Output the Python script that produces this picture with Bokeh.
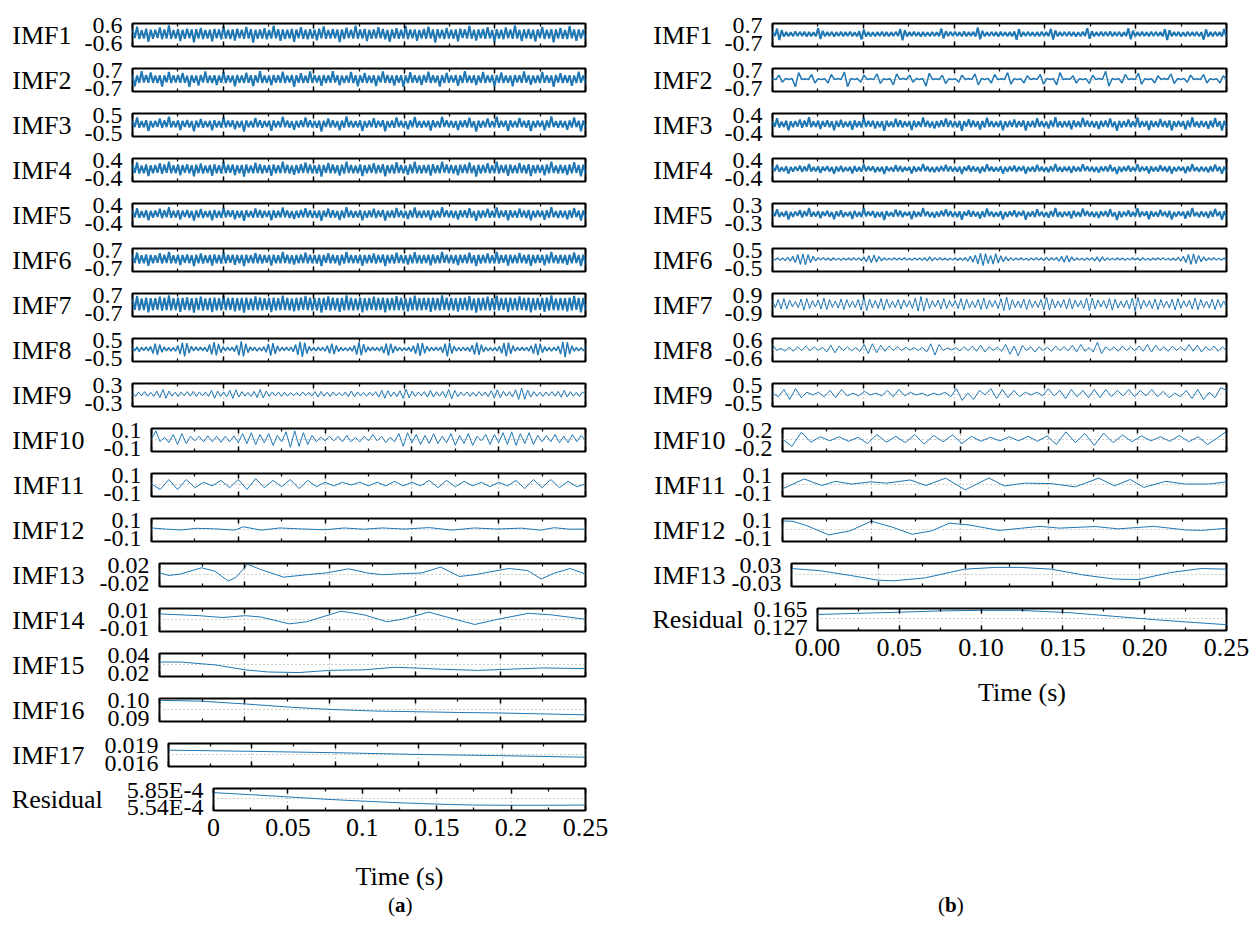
import numpy as np
from bokeh.plotting import figure
from bokeh.layouts import column, row
from bokeh.models import FixedTicker, LinearAxis, Div, Spacer
from bokeh.embed import file_html
from bokeh.resources import INLINE

FONT = "Liberation Serif"
BLUE = "#1f77b4"
FS = 26    # row names, x tick labels, x axis title
TFS = 24   # y tick labels

# ---------------- data, panel (a) ----------------
a_imf1 = [.31,-.27,.49,-.33,.26,-.3,.35,-.52,.29,-.31,.28,-.26,.44,-.34,.3,-.29,.57,-.32,.27,-.3,
.33,-.46,.28,-.31,.36,-.27,.3,-.55,.32,-.29,.41,-.33,.27,-.3,.29,-.48,.34,-.28,.31,-.35,
.53,-.3,.28,-.33,.3,-.43,.35,-.27,.29,-.32,.47,-.3,.33,-.56,.28,-.31,.3,-.29,.39,-.34,
.27,-.3,.55,-.28,.32,-.45,.3,-.33,.28,-.29,.34,-.51,.3,-.27,.46,-.31,.29,-.34,.32,-.3,
.28,-.42,.35,-.29,.5,-.31,.27,-.3,.33,-.28,.3,-.54,.31,-.33,.42,-.27,.29,-.3,.56,-.32,
.3,-.29,.34,-.47,.28,-.31,.31,-.3,.45,-.28,.33,-.35,.27,-.52,.3,-.29,.38,-.31,.29,-.3,
.52,-.33,.3,-.28,.31,-.44,.27,-.3,.34,-.31,.48,-.29,.3,-.57,.32,-.28,.29,-.33,.41,-.3,
.28,-.31,.3,-.49,.35,-.27,.31,-.3,.54,-.32,.29,-.43,.3,-.28,.33,-.31,.46,-.29,.27,-.53,
.32,-.3,.29,-.34,.44,-.28,.3,-.31,.57,-.3,.28,-.46,.31,-.29,.34,-.32,.29,-.5,.3,-.27,
.47,-.33,.28,-.3,.32,-.55,.3,-.29,.4,-.31,.27,-.33,.53,-.28,.3,-.45,.31,-.3,.29,-.32]
a_imf2 = [.29,-.56,.27,-.3,.6,-.27,.31,-.28,.5,-.29,.27,-.31,.3,-.58,.28,-.26,.55,-.3,.29,-.27,
.31,-.29,.47,-.28,.26,-.61,.3,-.29,.28,-.5,.32,-.27,.59,-.3,.28,-.31,.29,-.46,.27,-.28,
.53,-.3,.3,-.27,.28,-.57,.31,-.29,.27,-.3,.49,-.28,.3,-.55,.29,-.27,.6,-.31,.28,-.3,
.27,-.48,.32,-.28,.3,-.29,.56,-.3,.28,-.27,.31,-.6,.29,-.28,.45,-.31,.27,-.3,.58,-.29,
.3,-.27,.28,-.52,.31,-.3,.29,-.28,.61,-.27,.3,-.49,.28,-.31,.27,-.29,.54,-.3,.3,-.57,
.29,-.28,.47,-.3,.27,-.31,.3,-.55,.28,-.27,.59,-.29,.31,-.3,.28,-.5,.29,-.28,.3,-.6,
.27,-.31,.52,-.28,.3,-.29,.28,-.46,.31,-.27,.56,-.3,.29,-.28,.27,-.58,.3,-.31,.48,-.29,
.28,-.27,.31,-.53,.29,-.3,.6,-.28,.27,-.31,.3,-.47,.28,-.29,.55,-.3,.29,-.27,.31,-.59,
.3,-.28,.5,-.3,.27,-.29,.28,-.56,.31,-.27,.29,-.3,.58,-.28,.3,-.45,.27,-.31,.29,-.3,
.54,-.28,.3,-.29,.28,-.6,.31,-.27,.46,-.3,.29,-.28,.3,-.52,.27,-.31,.57,-.29,.28,-.3]
a_imf3 = [.19,-.17,.36,-.2,.16,-.18,.21,-.39,.17,-.19,.18,-.16,.3,-.21,.2,-.17,.41,-.19,.17,-.18,
.2,-.33,.18,-.16,.22,-.19,.17,-.4,.19,-.18,.28,-.2,.16,-.17,.18,-.35,.21,-.19,.17,-.2,
.38,-.18,.19,-.16,.2,-.29,.17,-.19,.18,-.42,.2,-.17,.16,-.19,.34,-.18,.21,-.2,.17,-.16,
.18,-.37,.2,-.19,.17,-.18,.4,-.17,.19,-.2,.16,-.31,.18,-.19,.21,-.17,.36,-.18,.2,-.19,
.17,-.2,.19,-.41,.18,-.16,.3,-.19,.2,-.18,.17,-.34,.19,-.2,.42,-.17,.18,-.19,.16,-.18,
.2,-.38,.17,-.19,.19,-.17,.32,-.2,.18,-.16,.21,-.4,.17,-.18,.19,-.2,.37,-.17,.18,-.19,
.16,-.29,.2,-.18,.39,-.19,.17,-.2,.18,-.17,.19,-.36,.21,-.18,.17,-.19,.41,-.16,.2,-.18,
.18,-.2,.17,-.33,.19,-.17,.2,-.19,.35,-.18,.16,-.42,.19,-.2,.18,-.17,.3,-.19,.17,-.18,
.4,-.2,.18,-.16,.19,-.37,.2,-.18,.17,-.19,.33,-.17,.18,-.2,.21,-.39,.17,-.18,.19,-.16,
.18,-.34,.2,-.19,.42,-.17,.16,-.2,.19,-.18,.17,-.31,.2,-.19,.36,-.17,.18,-.4,.19,-.2]
a_imf4 = [.19,-.17,.29,-.2,.16,-.18,.2,-.31,.17,-.19,.18,-.16,.26,-.21,.2,-.17,.33,-.19,.17,-.18,
.2,-.27,.18,-.16,.21,-.19,.17,-.32,.19,-.18,.25,-.2,.16,-.17,.18,-.3,.21,-.19,.17,-.2,
.31,-.18,.19,-.16,.2,-.26,.17,-.19,.18,-.33,.2,-.17,.16,-.19,.28,-.18,.21,-.2,.17,-.16,
.18,-.3,.2,-.19,.17,-.18,.32,-.17,.19,-.2,.16,-.25,.18,-.19,.21,-.17,.29,-.18,.2,-.19,
.17,-.2,.19,-.33,.18,-.16,.27,-.19,.2,-.18,.17,-.29,.19,-.2,.33,-.17,.18,-.19,.16,-.18,
.2,-.31,.17,-.19,.19,-.17,.26,-.2,.18,-.16,.21,-.32,.17,-.18,.19,-.2,.3,-.17,.18,-.19,
.16,-.25,.2,-.18,.32,-.19,.17,-.2,.18,-.17,.19,-.29,.21,-.18,.17,-.19,.33,-.16,.2,-.18,
.18,-.2,.17,-.27,.19,-.17,.2,-.19,.29,-.18,.16,-.33,.19,-.2,.18,-.17,.26,-.19,.17,-.18,
.32,-.2,.18,-.16,.19,-.3,.2,-.18,.17,-.19,.27,-.17,.18,-.2,.21,-.31,.17,-.18,.19,-.16,
.18,-.28,.2,-.19,.33,-.17,.16,-.2,.19,-.18,.17,-.26,.2,-.19,.3,-.17,.18,-.32,.19,-.2]
a_imf5 = [.16,-.14,.26,-.17,.13,-.15,.17,-.28,.14,-.16,.15,-.13,.23,-.18,.17,-.14,.3,-.16,.14,-.15,
.17,-.24,.15,-.13,.18,-.16,.14,-.29,.16,-.15,.22,-.17,.13,-.14,.15,-.27,.18,-.16,.14,-.17,
.28,-.15,.16,-.13,.17,-.23,.14,-.16,.15,-.3,.17,-.14,.13,-.16,.25,-.15,.18,-.17,.14,-.13,
.15,-.27,.17,-.16,.14,-.15,.29,-.14,.16,-.17,.13,-.22,.15,-.16,.18,-.14,.26,-.15,.17,-.16,
.14,-.17,.16,-.3,.15,-.13,.24,-.16,.17,-.15,.14,-.26,.16,-.17,.3,-.14,.15,-.16,.13,-.15,
.17,-.28,.14,-.16,.16,-.14,.23,-.17,.15,-.13,.18,-.29,.14,-.15,.16,-.17,.27,-.14,.15,-.16,
.13,-.22,.17,-.15,.29,-.16,.14,-.17,.15,-.14,.16,-.26,.18,-.15,.14,-.16,.3,-.13,.17,-.15,
.15,-.17,.14,-.24,.16,-.14,.17,-.16,.26,-.15,.13,-.3,.16,-.17,.15,-.14,.23,-.16,.14,-.15,
.29,-.17,.15,-.13,.16,-.27,.17,-.15,.14,-.16,.24,-.14,.15,-.17,.18,-.28,.14,-.15,.16,-.13,
.15,-.25,.17,-.16,.3,-.14,.13,-.17,.16,-.15,.14,-.23,.17,-.16,.27,-.14,.15,-.29,.16,-.17]
a_imf6 = [.33,-.3,.5,-.34,.29,-.32,.35,-.53,.31,-.33,.3,-.29,.45,-.35,.34,-.31,.55,-.33,.3,-.32,
.34,-.47,.32,-.29,.36,-.33,.3,-.54,.33,-.32,.43,-.35,.29,-.31,.32,-.5,.35,-.33,.31,-.34,
.52,-.32,.33,-.29,.34,-.44,.31,-.33,.32,-.55,.34,-.3,.29,-.33,.48,-.32,.35,-.34,.31,-.29,
.32,-.51,.34,-.33,.3,-.32,.54,-.31,.33,-.34,.29,-.42,.32,-.33,.35,-.3,.5,-.32,.34,-.33,
.31,-.34,.33,-.55,.32,-.29,.46,-.33,.34,-.32,.3,-.49,.33,-.34,.55,-.31,.32,-.33,.29,-.32,
.34,-.52,.31,-.33,.33,-.3,.44,-.34,.32,-.29,.35,-.54,.31,-.32,.33,-.34,.5,-.31,.32,-.33,
.29,-.43,.34,-.32,.53,-.33,.31,-.34,.32,-.3,.33,-.48,.35,-.32,.3,-.33,.55,-.29,.34,-.32,
.32,-.34,.31,-.46,.33,-.3,.34,-.33,.5,-.32,.29,-.55,.33,-.34,.32,-.31,.44,-.33,.3,-.32,
.54,-.34,.32,-.29,.33,-.51,.34,-.32,.31,-.33,.47,-.3,.32,-.34,.35,-.53,.31,-.32,.33,-.29,
.32,-.49,.34,-.33,.55,-.31,.29,-.34,.33,-.32,.31,-.45,.34,-.33,.51,-.3,.32,-.54,.33,-.34]
a_imf7 = [.48,-.45,.62,-.49,.44,-.47,.5,-.65,.46,-.48,.45,-.44,.58,-.5,.49,-.46,.66,-.48,.45,-.47,
.49,-.6,.47,-.44,.51,-.48,.45,-.66,.48,-.47,.57,-.5,.44,-.46,.47,-.63,.5,-.48,.46,-.49,
.64,-.47,.48,-.44,.49,-.57,.46,-.48,.47,-.66,.49,-.45,.44,-.48,.6,-.47,.5,-.49,.46,-.44,
.47,-.63,.49,-.48,.45,-.47,.65,-.46,.48,-.49,.44,-.56,.47,-.48,.5,-.45,.62,-.47,.49,-.48,
.46,-.49,.48,-.66,.47,-.44,.59,-.48,.49,-.47,.45,-.61,.48,-.49,.66,-.46,.47,-.48,.44,-.47,
.49,-.64,.46,-.48,.48,-.45,.57,-.49,.47,-.44,.5,-.65,.46,-.47,.48,-.49,.62,-.46,.47,-.48,
.44,-.56,.49,-.47,.65,-.48,.46,-.49,.47,-.45,.48,-.6,.5,-.47,.45,-.48,.66,-.44,.49,-.47,
.47,-.49,.46,-.58,.48,-.45,.49,-.48,.62,-.47,.44,-.66,.48,-.49,.47,-.46,.57,-.48,.45,-.47,
.65,-.49,.47,-.44,.48,-.63,.49,-.47,.46,-.48,.59,-.45,.47,-.49,.5,-.64,.46,-.47,.48,-.44,
.47,-.61,.49,-.48,.66,-.46,.44,-.49,.48,-.47,.46,-.57,.49,-.48,.63,-.45,.47,-.65,.48,-.49]
a_imf8 = [0.1,-0.1,0.12,-0.14,0.1,-0.09,
0.12,-0.1,0.15,-0.25,0.3,-0.32,0.25,-0.18,0.12,-0.1,0.09,-0.11,0.1,
-0.12,0.2,-0.28,0.35,-0.4,0.33,-0.22,0.15,-0.1,0.12,-0.09,0.1,-0.08,
0.1,-0.15,0.25,-0.3,0.38,-0.35,0.28,-0.2,0.13,-0.1,0.11,-0.09,0.1,
-0.14,0.22,-0.35,0.42,-0.4,0.3,-0.2,0.12,-0.09,0.1,-0.11,0.08,-0.1,
0.13,-0.18,0.28,-0.36,0.33,-0.26,0.18,-0.12,0.1,-0.08,0.1,-0.09,0.11,
-0.15,0.25,-0.32,0.4,-0.44,0.36,-0.25,0.15,-0.1,0.09,-0.1,0.11,-0.09,
0.1,-0.12,0.18,-0.24,0.3,-0.28,0.2,-0.14,0.1,-0.09,0.08,-0.1,0.09,
-0.12,0.2,-0.3,0.38,-0.35,0.27,-0.18,0.12,-0.1,0.11,-0.08,0.09,-0.1,
0.14,-0.22,0.3,-0.36,0.3,-0.22,0.15,-0.1,0.09,-0.1,0.08,-0.09,0.1,
-0.13,0.18,-0.26,0.32,-0.38,0.34,-0.24,0.15,-0.11,0.1,-0.09,0.1,-0.08,
0.12,-0.2,0.3,-0.4,0.35,-0.25,0.16,-0.11,0.09,-0.1,0.11,-0.09,0.1,
-0.14,0.22,-0.3,0.36,-0.32,0.24,-0.16,0.11,-0.1,0.08,-0.1,0.09,-0.11,
0.15,-0.24,0.34,-0.4,0.36,-0.26,0.18,-0.12,0.1,-0.09,0.1,-0.08,0.09,
-0.12,0.18,-0.25,0.3,-0.34,0.3,-0.2,0.13,-0.1,0.09,-0.11,0.1,-0.09,
0.16,-0.28,0.4,-0.45,0.38,-0.28,0.18,-0.12,0.09,-0.1,0.08,-0.1,0.09]
a_imf9 = [0.06,-0.08,0.07,-0.06,0.08,-0.07,0.06,-0.08,0.1,-0.12,
0.15,-0.14,0.1,-0.07,0.06,-0.08,0.07,-0.06,0.08,-0.07,
0.09,-0.08,0.07,-0.06,0.07,-0.08,0.12,-0.14,0.1,-0.08,
0.07,-0.09,0.12,-0.15,0.14,-0.1,0.08,-0.07,0.06,-0.08,
0.09,-0.12,0.15,-0.13,0.1,-0.08,0.07,-0.06,0.07,-0.08,
0.06,-0.07,0.05,-0.06,0.05,-0.06,0.07,-0.05,0.06,-0.07,
0.08,-0.1,0.09,-0.07,0.06,-0.08,0.07,-0.06,0.05,-0.06,
0.07,-0.08,0.1,-0.09,0.07,-0.06,0.05,-0.07,0.06,-0.05,
0.08,-0.1,0.12,-0.14,0.11,-0.08,0.07,-0.09,0.11,-0.14,
0.16,-0.13,0.1,-0.08,0.07,-0.06,0.08,-0.1,0.12,-0.1,
0.08,-0.07,0.09,-0.12,0.15,-0.16,0.12,-0.09,0.07,-0.06,
0.07,-0.08,0.06,-0.07,0.08,-0.06,0.07,-0.09,0.11,-0.13,
0.14,-0.12,0.09,-0.07,0.08,-0.1,0.14,-0.18,0.2,-0.17,
0.13,-0.1,0.08,-0.07,0.06,-0.08,0.07,-0.06,0.08,-0.07,
0.09,-0.11,0.12,-0.1,0.08,-0.07,0.06,-0.08,0.07,-0.02]
a_imf10 = [0.0,
0.09,-0.03,0.02,-0.04,0.05,-0.06,0.06,-0.05,0.03,-0.02,
0.03,-0.03,0.035,-0.03,0.03,-0.035,0.03,-0.03,0.035,-0.04,
0.06,-0.05,0.07,-0.06,0.05,-0.04,0.06,-0.07,0.04,-0.03,
0.08,-0.09,0.09,-0.08,0.07,-0.06,0.04,-0.03,0.02,-0.02,
0.03,-0.02,0.03,-0.03,0.04,-0.03,0.02,-0.03,0.03,-0.02,
0.05,-0.02,0.03,-0.04,0.02,-0.03,0.06,-0.08,0.07,-0.04,
0.05,-0.06,0.04,-0.05,0.06,-0.05,0.03,-0.04,0.06,-0.07,
0.04,-0.05,0.06,-0.07,0.03,-0.02,0.05,-0.06,0.05,-0.04,
0.07,-0.06,0.08,-0.07,0.06,-0.05,0.07,-0.06,0.04,-0.03,
0.04,-0.03,0.05,-0.04,0.03,-0.04,0.05,-0.03,0.04,-0.02]
a_imf11 = [0.0,
-0.06,0.05,-0.06,0.05,-0.04, 0.02,-0.02,0.04,-0.04,0.05,
-0.06,0.06,-0.04,0.04,-0.03, 0.05,-0.05,0.04,-0.03,0.02,
-0.02,0.02,-0.01,0.02,-0.02, 0.02,-0.02,0.03,-0.02,0.02,
-0.02,0.04,-0.04,0.04,-0.03, 0.03,-0.02,0.02,-0.03,0.02,
-0.02,0.04,-0.05,0.05,-0.04, 0.05,-0.04,0.03,-0.03,0.0]
a_imf12_t = [0, 0.008, 0.017, 0.026, 0.037, 0.048, 0.053, 0.063, 0.074, 0.085, 0.1, 0.111,
             0.122, 0.133, 0.146, 0.16, 0.173, 0.186, 0.199, 0.213, 0.224, 0.232, 0.241, 0.25]
a_imf12 = [0.012, 0.0, -0.01, 0.008, 0.002, -0.012, 0.025, -0.012, 0.012, 0.002, -0.008, 0.012,
           -0.002, 0.012, 0.0, 0.016, -0.012, 0.012, 0.0, 0.01, -0.012, 0.015, -0.002, 0.0]
a_imf13_t = [0, 0.0056, 0.0123, 0.0247, 0.0325, 0.0404, 0.0448, 0.0516, 0.0594, 0.0729, 0.0863, 0.0975,
             0.111, 0.122, 0.131, 0.142, 0.154, 0.165, 0.176, 0.185, 0.205, 0.216, 0.224, 0.232, 0.241, 0.25]
a_imf13 = [0.0023, -0.0031, 0.0, 0.0139, 0.0062, -0.0154, -0.0077, 0.0216, 0.01, -0.0069, -0.0015, 0.0023,
           0.0116, 0.0023, -0.0015, 0.0008, 0.0023, 0.0154, -0.0054, -0.0015, 0.0123, 0.0077, -0.0108, 0.0023, 0.0123, 0.0]
a_imf14_t = [0, 0.0235, 0.037, 0.0504, 0.0594, 0.0762, 0.0863, 0.1065, 0.12, 0.1334, 0.1424, 0.1581,
             0.167, 0.185, 0.1984, 0.2164, 0.2298, 0.25]
a_imf14 = [0.0057, 0.0037, 0.0017, 0.0037, 0.0023, -0.0053, -0.003, 0.0087, 0.0047, -0.003, -0.0003, 0.0077,
           0.003, -0.006, -0.0003, 0.0063, 0.0047, -0.0003]
a_imf15_t = [0, 0.0123, 0.0325, 0.0504, 0.0639, 0.0818, 0.0998, 0.12, 0.1379, 0.1491, 0.1648, 0.1872, 0.2052, 0.2253, 0.25]
a_imf15 = [0.0322, 0.0322, 0.0291, 0.0236, 0.0212, 0.0206, 0.023, 0.0236, 0.0264, 0.0257, 0.0243, 0.023, 0.0243, 0.0257, 0.0249]
a_imf16_t = [0, 0.0235, 0.0504, 0.0773, 0.0998, 0.1267, 0.1513, 0.176, 0.2009, 0.2258, 0.25]
a_imf16 = [0.0998, 0.0994, 0.0978, 0.096, 0.0948, 0.0939, 0.0935, 0.0931, 0.0928, 0.0923, 0.0918]
a_imf17_t = [0, 0.05, 0.1, 0.15, 0.2, 0.25]
a_imf17 = [0.01815, 0.01795, 0.01772, 0.01743, 0.01723, 0.01697]
a_res_t = [0, 0.025, 0.05, 0.075, 0.1, 0.125, 0.15, 0.175, 0.2, 0.225, 0.25]
a_res = [5.802e-4, 5.765e-4, 5.725e-4, 5.684e-4, 5.65e-4, 5.62e-4, 5.596e-4, 5.579e-4, 5.576e-4, 5.576e-4, 5.579e-4]

# ---------------- data, panel (b) ----------------
b_imf1 = [.17,-.15,.42,-.46,.3,-.2,.16,-.18,.15,-.17,.2,-.16,.17,-.15,.18,-.19,.16,-.17,.15,-.18,
.45,-.38,.25,-.18,.16,-.15,.17,-.19,.15,-.16,.18,-.17,.16,-.15,.19,-.17,.15,-.18,.22,-.42,
.35,-.2,.16,-.17,.15,-.18,.16,-.15,.19,-.17,.16,-.18,.15,-.16,.17,-.15,.38,-.48,.3,-.19,
.16,-.15,.18,-.16,.15,-.2,.16,-.17,.15,-.18,.17,-.16,.15,-.17,.42,-.35,.22,-.16,.17,-.15,
.18,-.16,.15,-.18,.2,-.17,.16,-.15,.17,-.19,.5,-.4,.25,-.18,.15,-.16,.17,-.15,.16,-.19,
.18,-.16,.15,-.17,.16,-.18,.2,-.45,.38,-.2,.16,-.15,.17,-.16,.15,-.18,.16,-.17,.19,-.15,
.16,-.17,.4,-.42,.28,-.18,.16,-.15,.17,-.16,.18,-.15,.16,-.19,.15,-.17,.18,-.16,.46,-.36,
.22,-.17,.15,-.16,.18,-.15,.17,-.16,.2,-.18,.16,-.15,.17,-.19,.15,-.16,.44,-.4,.26,-.17,
.16,-.15,.18,-.16,.15,-.17,.19,-.16,.17,-.15,.16,-.18,.38,-.46,.3,-.18,.16,-.15,.17,-.2,
.15,-.17,.18,-.16,.16,-.15,.17,-.18,.15,-.43,.36,-.2,.16,-.17,.18,-.15,.16,-.19,.4,-.3]
b_imf2 = [0.03,-0.04,0.3,-0.25,0.04, -0.03,0.04,-0.6,0.5,-0.04,
0.03,-0.04,0.35,-0.3,0.03, -0.04,0.03,-0.3,0.35,-0.03,
0.04,-0.03,0.55,-0.6,0.04, -0.03,0.04,-0.25,0.3,-0.04,
0.03,-0.04,0.4,-0.35,0.03, -0.04,0.03,-0.45,0.4,-0.03,
0.04,-0.03,0.3,-0.25,0.04, -0.03,0.04,-0.55,0.45,-0.04,
0.03,-0.04,0.3,-0.35,0.03, -0.04,0.03,-0.25,0.3,-0.03,
0.04,-0.03,0.4,-0.45,0.04, -0.03,0.04,-0.3,0.35,-0.04,
0.03,-0.04,0.5,-0.4,0.03, -0.04,0.03,-0.3,0.25,-0.03,
0.04,-0.03,0.35,-0.4,0.04, -0.03,0.04,-0.45,0.5,-0.04,
0.03,-0.04,0.25,-0.3,0.03, -0.04,0.03,-0.35,0.3,-0.03,
0.04,-0.03,0.6,-0.55,0.04, -0.03,0.04,-0.3,0.35,-0.04,
0.03,-0.04,0.45,-0.4,0.03, -0.04,0.03,-0.3,0.25,-0.03,
0.04,-0.03,0.4,-0.35,0.04, -0.03,0.04,-0.25,0.3,-0.04,
0.03,-0.04,0.35,-0.3,0.03, -0.04,0.03,-0.3,0.25,-0.03]
b_imf3 = [.14,-.12,.26,-.15,.11,-.13,.15,-.28,.12,-.14,.13,-.11,.2,-.16,.15,-.12,.3,-.14,.12,-.13,
.15,-.22,.13,-.11,.16,-.14,.12,-.27,.14,-.13,.19,-.15,.11,-.12,.13,-.25,.16,-.14,.12,-.15,
.28,-.13,.14,-.11,.15,-.2,.12,-.14,.13,-.3,.15,-.12,.11,-.14,.23,-.13,.16,-.15,.12,-.11,
.13,-.26,.15,-.14,.12,-.13,.29,-.12,.14,-.15,.11,-.19,.13,-.14,.16,-.12,.25,-.13,.15,-.14,
.12,-.15,.14,-.3,.13,-.11,.21,-.14,.15,-.13,.12,-.24,.14,-.15,.28,-.12,.13,-.14,.11,-.13,
.15,-.27,.12,-.14,.14,-.12,.2,-.15,.13,-.11,.16,-.29,.12,-.13,.14,-.15,.26,-.12,.13,-.14,
.11,-.19,.15,-.13,.3,-.14,.12,-.15,.13,-.12,.14,-.23,.16,-.13,.12,-.14,.28,-.11,.15,-.13,
.13,-.15,.12,-.22,.14,-.12,.15,-.14,.25,-.13,.11,-.3,.14,-.15,.13,-.12,.2,-.14,.12,-.13,
.29,-.15,.13,-.11,.14,-.26,.15,-.13,.12,-.14,.22,-.12,.13,-.15,.16,-.28,.12,-.13,.14,-.11,
.13,-.24,.15,-.14,.3,-.12,.11,-.15,.14,-.13,.12,-.21,.15,-.14,.27,-.12,.13,-.29,.14,-.15]
b_imf4 = [.11,-.09,.19,-.12,.08,-.1,.12,-.21,.09,-.11,.1,-.08,.15,-.13,.12,-.09,.22,-.11,.09,-.1,
.12,-.17,.1,-.08,.13,-.11,.09,-.2,.11,-.1,.14,-.12,.08,-.09,.1,-.19,.13,-.11,.09,-.12,
.21,-.1,.11,-.08,.12,-.15,.09,-.11,.1,-.22,.12,-.09,.08,-.11,.17,-.1,.13,-.12,.09,-.08,
.1,-.2,.12,-.11,.09,-.1,.22,-.09,.11,-.12,.08,-.14,.1,-.11,.13,-.09,.19,-.1,.12,-.11,
.09,-.12,.11,-.22,.1,-.08,.16,-.11,.12,-.1,.09,-.18,.11,-.12,.21,-.09,.1,-.11,.08,-.1,
.12,-.2,.09,-.11,.11,-.09,.15,-.12,.1,-.08,.13,-.21,.09,-.1,.11,-.12,.19,-.09,.1,-.11,
.08,-.14,.12,-.1,.22,-.11,.09,-.12,.1,-.09,.11,-.17,.13,-.1,.09,-.11,.21,-.08,.12,-.1,
.1,-.12,.09,-.16,.11,-.09,.12,-.11,.19,-.1,.08,-.22,.11,-.12,.1,-.09,.15,-.11,.09,-.1,
.21,-.12,.1,-.08,.11,-.19,.12,-.1,.09,-.11,.16,-.09,.1,-.12,.13,-.2,.09,-.1,.11,-.08,
.1,-.18,.12,-.11,.22,-.09,.08,-.12,.11,-.1,.09,-.15,.12,-.11,.2,-.09,.1,-.21,.11,-.12]
b_imf5 = [.09,-.07,.16,-.1,.06,-.08,.1,-.18,.07,-.09,.08,-.06,.13,-.11,.1,-.07,.2,-.09,.07,-.08,
.1,-.14,.08,-.06,.11,-.09,.07,-.17,.09,-.08,.12,-.1,.06,-.07,.08,-.16,.11,-.09,.07,-.1,
.19,-.08,.09,-.06,.1,-.12,.07,-.09,.08,-.2,.1,-.07,.06,-.09,.15,-.08,.11,-.1,.07,-.06,
.08,-.17,.1,-.09,.07,-.08,.2,-.07,.09,-.1,.06,-.12,.08,-.09,.11,-.07,.16,-.08,.1,-.09,
.07,-.1,.09,-.19,.08,-.06,.13,-.09,.1,-.08,.07,-.15,.09,-.1,.18,-.07,.08,-.09,.06,-.08,
.1,-.18,.07,-.09,.09,-.07,.12,-.1,.08,-.06,.11,-.19,.07,-.08,.09,-.1,.16,-.07,.08,-.09,
.06,-.12,.1,-.08,.2,-.09,.07,-.1,.08,-.07,.09,-.15,.11,-.08,.07,-.09,.18,-.06,.1,-.08,
.08,-.1,.07,-.13,.09,-.07,.1,-.09,.16,-.08,.06,-.2,.09,-.1,.08,-.07,.12,-.09,.07,-.08,
.19,-.1,.08,-.06,.09,-.17,.1,-.08,.07,-.09,.14,-.07,.08,-.1,.11,-.18,.07,-.08,.09,-.06,
.08,-.15,.1,-.09,.2,-.07,.06,-.1,.09,-.08,.07,-.13,.1,-.09,.17,-.07,.08,-.19,.09,-.1]
b_imf6 = [0.05,-0.06,0.08,-0.07,0.06,-0.09,0.1,-0.12,0.15,-0.2,
0.25,-0.3,0.28,-0.32,0.25,-0.2,0.15,-0.1,0.08,-0.06,
0.07,-0.05,0.06,-0.08,0.07,-0.06,0.05,-0.07,0.06,-0.05,
0.06,-0.07,0.08,-0.06,0.07,-0.09,0.12,-0.15,0.18,-0.2,
0.22,-0.18,0.14,-0.1,0.08,-0.06,0.05,-0.06,0.07,-0.05,
0.06,-0.05,0.07,-0.06,0.05,-0.07,0.06,-0.05,0.06,-0.07,
0.08,-0.1,0.12,-0.1,0.08,-0.06,0.07,-0.05,0.06,-0.07,
0.05,-0.06,0.07,-0.08,0.06,-0.07,0.09,-0.12,0.15,-0.18,
0.22,-0.28,0.32,-0.36,0.3,-0.25,0.2,-0.28,0.3,-0.22,
0.18,-0.15,0.12,-0.1,0.08,-0.07,0.06,-0.05,0.07,-0.06,
0.05,-0.07,0.06,-0.05,0.08,-0.06,0.07,-0.09,0.1,-0.08,
0.07,-0.06,0.09,-0.12,0.15,-0.18,0.2,-0.16,0.12,-0.09,
0.07,-0.06,0.05,-0.07,0.06,-0.05,0.08,-0.1,0.13,-0.15,
0.12,-0.09,0.07,-0.06,0.05,-0.06,0.07,-0.05,0.06,-0.07,
0.05,-0.06,0.07,-0.05,0.06,-0.08,0.07,-0.06,0.05,-0.07,
0.06,-0.05,0.07,-0.06,0.08,-0.06,0.05,-0.07,0.06,-0.08,
0.1,-0.12,0.15,-0.2,0.25,-0.3,0.28,-0.25,0.2,-0.15,
0.12,-0.09,0.07,-0.06,0.08,-0.06,0.05,-0.07,0.06,-0.04]
b_imf7 = [0.3,-0.35,0.45,-0.5,0.55,-0.5,0.4,-0.3,0.25,-0.35,
0.5,-0.6,0.55,-0.45,0.35,-0.3,0.4,-0.5,0.6,-0.55,
0.45,-0.35,0.3,-0.4,0.5,-0.55,0.45,-0.35,0.3,-0.35,
0.45,-0.6,0.7,-0.65,0.5,-0.4,0.35,-0.45,0.55,-0.6,
0.5,-0.4,0.3,-0.35,0.45,-0.5,0.4,-0.3,0.35,-0.45,
0.6,-0.7,0.75,-0.7,0.6,-0.45,0.35,-0.3,0.4,-0.5,
0.55,-0.45,0.35,-0.3,0.35,-0.45,0.55,-0.6,0.5,-0.4,
0.3,-0.35,0.45,-0.55,0.6,-0.5,0.4,-0.3,0.35,-0.45,
0.55,-0.65,0.7,-0.6,0.45,-0.35,0.3,-0.4,0.5,-0.55,
0.45,-0.35,0.3,-0.35,0.45,-0.55,0.65,-0.6,0.5,-0.4,
0.3,-0.35,0.45,-0.5,0.55,-0.5,0.4,-0.3,0.35,-0.45,
0.6,-0.65,0.6,-0.5,0.4,-0.3,0.35,-0.45,0.55,-0.6,
0.5,-0.4,0.3,-0.35,0.4,-0.5,0.6,-0.7,0.65,-0.5,
0.4,-0.3,0.35,-0.45,0.5,-0.55,0.45,-0.35,0.3,-0.4,
0.5,-0.6,0.55,-0.45,0.35,-0.3,0.4,-0.5,0.6,-0.55,
0.45,-0.35,0.3,-0.4,0.5,-0.55,0.45,-0.35,0.3,-0.2]
b_imf8 = [0.3,-0.1,0.05,-0.15,0.12,-0.15,0.15,-0.1,0.2,-0.12,0.15,
-0.1,0.12,-0.2,0.25,-0.25,0.2,-0.1,0.15,-0.12,0.1,-0.15,
0.3,-0.3,0.35,-0.25,0.25,-0.15,0.2,-0.1,0.15,-0.1,0.12,
-0.08,0.1,-0.1,0.12,-0.2,0.35,-0.4,0.3,-0.1,0.08,-0.06,
0.1,-0.12,0.15,-0.1,0.2,-0.15,0.25,-0.2,0.15,-0.1,0.12,
-0.15,0.3,-0.35,0.2,-0.45,0.25,-0.1,0.15,-0.2,0.15,-0.1,
0.12,-0.15,0.2,-0.1,0.15,-0.12,0.25,-0.2,0.3,-0.15,0.1,
-0.2,0.45,-0.3,0.15,-0.1,0.15,-0.15,0.2,-0.1,0.15,-0.12,
0.2,-0.15,0.3,-0.2,0.25,-0.1,0.15,-0.15,0.2,-0.1,0.15,
-0.12,0.3,-0.15,0.25,-0.2,0.15,-0.1,0.2,-0.15,0.15,-0.1]
b_imf9 = [0.05,-0.15,0.25,-0.3,0.3,-0.2,0.1,-0.05,
0.1,-0.15,0.2,-0.2,0.25,-0.1,0.05,-0.1,
0.15,-0.05,0.05,-0.1,0.2,-0.15,0.25,-0.1,
0.1,-0.05,0.05,-0.1,0.05,-0.05,0.1,-0.15,
0.3,-0.35,0.05,-0.3,0.2,-0.05,0.3,-0.25,
0.25,-0.2,0.2,-0.15,0.1,-0.05,0.1,-0.1,
0.3,-0.1,0.2,-0.25,0.25,-0.15,0.2,-0.2,
0.25,-0.2,0.25,-0.15,0.2,-0.1,0.25,-0.15,
0.2,-0.1,0.25,-0.15,0.15,-0.2,0.05,-0.15,
0.2,-0.25,0.25,-0.3,0.1,-0.2,0.35,0.2]
b_imf10 = [0.0,-0.16,0.15,-0.07,0.05,-0.04,0.05,-0.05,0.04,-0.1,
0.1,-0.07,0.06,-0.08,0.1,-0.11,0.08,-0.06,0.09,-0.1,
0.06,-0.05,0.04,-0.04,0.05,-0.04,0.06,-0.05,0.07,-0.12,
0.16,-0.08,0.12,-0.14,0.13,-0.08,0.09,-0.06,0.07,-0.04,
0.05,-0.05,0.08,-0.06,0.05,-0.12,0.02,0.17]
b_imf11_t = [0, 0.0122, 0.0221, 0.0299, 0.0387, 0.0498, 0.0586, 0.0719, 0.0808, 0.0918, 0.1029, 0.1162,
             0.125, 0.1361, 0.1515, 0.1648, 0.1781, 0.1869, 0.1958, 0.2035, 0.2157, 0.2268, 0.2401, 0.25]
b_imf11 = [-0.053, 0.056, -0.016, 0.03, 0.0, 0.024, 0.01, 0.045, -0.016, 0.065, -0.064, 0.067,
           -0.022, 0.01, 0.005, -0.031, 0.065, -0.02, 0.05, -0.037, 0.03, 0.0, 0.0, 0.024]
b_imf12_t = [0, 0.006, 0.014, 0.026, 0.038, 0.05, 0.062, 0.073, 0.084, 0.094, 0.105, 0.122, 0.134,
             0.145, 0.156, 0.176, 0.189, 0.209, 0.227, 0.236, 0.25]
b_imf12 = [0.09, 0.085, 0.035, -0.065, -0.02, 0.087, 0.02, -0.058, -0.02, 0.065, 0.045, -0.015, 0.008,
           0.03, 0.01, 0.028, 0.002, 0.03, -0.01, -0.015, 0.008]
b_imf13_t = [0, 0.0158, 0.0339, 0.0498, 0.0588, 0.0769, 0.0995, 0.1176, 0.1312, 0.1493, 0.1674, 0.1855,
             0.1991, 0.2172, 0.2353, 0.25]
b_imf13 = [0.0182, 0.0116, -0.0047, -0.0204, -0.0224, -0.0126, 0.0162, 0.0221, 0.0221, 0.0162, -0.0028,
           -0.0165, -0.0185, 0.0044, 0.0182, 0.0162]
b_res_t = [0, 0.0246, 0.0499, 0.0752, 0.1006, 0.1235, 0.1548, 0.1801, 0.2054, 0.2295, 0.25]
b_res = [0.155, 0.1575, 0.16, 0.1629, 0.1641, 0.1641, 0.1588, 0.1513, 0.1438, 0.1376, 0.1326]

# axis labels
X_TICKS = [0, 0.05, 0.1, 0.15, 0.2, 0.25]
X_MINOR = [0.025, 0.075, 0.125, 0.175, 0.225]
X_LABELS_A = ["0", "0.05", "0.1", "0.15", "0.2", "0.25"]
X_LABELS_B = ["0.00", "0.05", "0.10", "0.15", "0.20", "0.25"]

# (name, hi_txt, lo_txt, hi, lo, t, v, box_left_px, line_width)
ROWS_A = [
    ("IMF1", "0.6", "-0.6", 0.6, -0.6, None, a_imf1, 132, 2.0),
    ("IMF2", "0.7", "-0.7", 0.7, -0.7, None, a_imf2, 132, 2.0),
    ("IMF3", "0.5", "-0.5", 0.5, -0.5, None, a_imf3, 132, 2.0),
    ("IMF4", "0.4", "-0.4", 0.4, -0.4, None, a_imf4, 132, 2.0),
    ("IMF5", "0.4", "-0.4", 0.4, -0.4, None, a_imf5, 132, 2.0),
    ("IMF6", "0.7", "-0.7", 0.7, -0.7, None, a_imf6, 132, 2.0),
    ("IMF7", "0.7", "-0.7", 0.7, -0.7, None, a_imf7, 132, 2.0),
    ("IMF8", "0.5", "-0.5", 0.5, -0.5, None, a_imf8, 132, 1.4),
    ("IMF9", "0.3", "-0.3", 0.3, -0.3, None, a_imf9, 132, 1.0),
    ("IMF10", "0.1", "-0.1", 0.1, -0.1, None, a_imf10, 151, 1.0),
    ("IMF11", "0.1", "-0.1", 0.1, -0.1, None, a_imf11, 151, 1.0),
    ("IMF12", "0.1", "-0.1", 0.1, -0.1, a_imf12_t, a_imf12, 151, 1.0),
    ("IMF13", "0.02", "-0.02", 0.02, -0.02, a_imf13_t, a_imf13, 159, 1.0),
    ("IMF14", "0.01", "-0.01", 0.01, -0.01, a_imf14_t, a_imf14, 159, 1.0),
    ("IMF15", "0.04", "0.02", 0.04, 0.02, a_imf15_t, a_imf15, 159, 1.0),
    ("IMF16", "0.10", "0.09", 0.10, 0.09, a_imf16_t, a_imf16, 159, 1.0),
    ("IMF17", "0.019", "0.016", 0.019, 0.016, a_imf17_t, a_imf17, 168, 1.0),
    ("Residual", "5.85E-4", "5.54E-4", 5.85e-4, 5.54e-4, a_res_t, a_res, 213, 1.0),
]
ROWS_B = [
    ("IMF1", "0.7", "-0.7", 0.7, -0.7, None, b_imf1, 772, 2.0),
    ("IMF2", "0.7", "-0.7", 0.7, -0.7, None, b_imf2, 772, 1.5),
    ("IMF3", "0.4", "-0.4", 0.4, -0.4, None, b_imf3, 772, 2.0),
    ("IMF4", "0.4", "-0.4", 0.4, -0.4, None, b_imf4, 772, 2.0),
    ("IMF5", "0.3", "-0.3", 0.3, -0.3, None, b_imf5, 772, 2.0),
    ("IMF6", "0.5", "-0.5", 0.5, -0.5, None, b_imf6, 772, 1.2),
    ("IMF7", "0.9", "-0.9", 0.9, -0.9, None, b_imf7, 772, 1.0),
    ("IMF8", "0.6", "-0.6", 0.6, -0.6, None, b_imf8, 772, 1.0),
    ("IMF9", "0.5", "-0.5", 0.5, -0.5, None, b_imf9, 772, 1.0),
    ("IMF10", "0.2", "-0.2", 0.2, -0.2, None, b_imf10, 782, 1.0),
    ("IMF11", "0.1", "-0.1", 0.1, -0.1, b_imf11_t, b_imf11, 782, 1.0),
    ("IMF12", "0.1", "-0.1", 0.1, -0.1, b_imf12_t, b_imf12, 782, 1.0),
    ("IMF13", "0.03", "-0.03", 0.03, -0.03, b_imf13_t, b_imf13, 791, 1.0),
    ("Residual", "0.165", "0.127", 0.165, 0.127, b_res_t, b_res, 817, 1.0),
]

CW = {'.': 0.25, '-': 0.333, 'E': 0.611, 'I': 0.333, 'M': 0.889, 'F': 0.556, 'R': 0.667,
      'e': 0.444, 's': 0.389, 'i': 0.278, 'd': 0.5, 'u': 0.5, 'a': 0.444, 'l': 0.278}


def tw(s, fs):
    return sum(CW.get(c, 0.5) for c in s) * fs


def style_x(ax, labels):
    ax.ticker = FixedTicker(ticks=X_TICKS, minor_ticks=X_MINOR)
    ax.axis_line_color = None
    ax.major_tick_in = 5
    ax.major_tick_out = 0
    ax.minor_tick_in = 3
    ax.minor_tick_out = 0
    ax.major_tick_line_color = "black"
    ax.minor_tick_line_color = "black"
    ax.major_tick_line_width = 1.5
    ax.minor_tick_line_width = 1.2
    if labels is None:
        ax.major_label_text_color = None
        ax.major_label_text_font_size = "1px"
        ax.major_label_standoff = 0
    else:
        ax.major_label_overrides = dict(zip(X_TICKS, labels))
        ax.major_label_text_font = FONT
        ax.major_label_text_font_size = f"{FS}px"
        ax.major_label_text_color = "black"
        ax.major_label_standoff = 8


TOP, FH, BOT = 12, 23, 10


def make_row(spec, page_left, width, box_right, label_left, last=False, xlabels=None,
             xstand=20, bottom_last=82):
    name, hi_txt, lo_txt, hi, lo, t, v, box_left, lw = spec
    d = hi - lo
    y0, y1 = lo - 0.188 * d, hi + 0.083 * d
    bottom = bottom_last if last else BOT
    left = box_left - page_left
    right = width - (box_right - page_left)
    p = figure(width=width, height=TOP + FH + bottom, x_range=(0, 0.25), y_range=(y0, y1),
               output_backend="svg", toolbar_location=None,
               min_border_left=left, min_border_right=right,
               min_border_top=TOP, min_border_bottom=bottom)
    p.outline_line_color = "black"
    p.outline_line_width = 2
    if t is None:
        t = np.linspace(0, 0.25, len(v))
    p.line(t, v, line_color=BLUE, line_width=lw)

    below = p.below[0]
    style_x(below, xlabels if last else None)
    if last:
        below.axis_label = "Time (s)"
        below.axis_label_text_font = FONT
        below.axis_label_text_font_size = f"{FS}px"
        below.axis_label_text_font_style = "normal"
        below.axis_label_text_color = "black"
        below.axis_label_standoff = xstand
    above = LinearAxis()
    style_x(above, None)
    p.add_layout(above, "above")

    ya = p.left[0]
    ya.ticker = FixedTicker(ticks=[lo, hi])
    ya.major_label_overrides = {lo: lo_txt, hi: hi_txt}
    ya.major_tick_in = 0
    ya.major_tick_out = 0
    ya.minor_tick_in = 0
    ya.minor_tick_out = 0
    ya.axis_line_color = None
    ya.major_label_standoff = 10
    ya.major_label_text_font = FONT
    ya.major_label_text_font_size = f"{TFS}px"
    ya.major_label_text_color = "black"
    ya.axis_label = name
    ya.axis_label_orientation = "horizontal"
    ya.axis_label_text_font = FONT
    ya.axis_label_text_font_size = f"{FS}px"
    ya.axis_label_text_font_style = "normal"
    ya.axis_label_text_color = "black"
    so = (left - (label_left - page_left) - 10 - max(tw(hi_txt, TFS), tw(lo_txt, TFS))
          - tw(name, FS) - 2)
    ya.axis_label_standoff = int(max(1, so))

    p.xgrid.ticker = FixedTicker(ticks=[0.05, 0.1, 0.15, 0.2])
    p.ygrid.ticker = FixedTicker(ticks=[(hi + lo) / 2])
    p.grid.grid_line_color = "#9a9a9a"
    p.grid.grid_line_dash = "1 3"
    p.grid.grid_line_width = 1
    return p


def wrap(fig, i):
    # each plot sits in its own row (own grid column) so frames are not aligned
    pads = [Spacer(width=0, height=0) for _ in range(i)]
    return row(*pads, fig, spacing=0)


# the page origin is the window's top-left corner
A_LEFT, A_W, A_RIGHT = 0, 644, 585
B_LEFT, B_W, B_RIGHT = 644, 606, 1226

rows_a = []
for i, s in enumerate(ROWS_A):
    last = i == len(ROWS_A) - 1
    rows_a.append(wrap(make_row(s, A_LEFT, A_W, A_RIGHT, 12, last, X_LABELS_A, 23, 82), i))
rows_b = []
for i, s in enumerate(ROWS_B):
    last = i == len(ROWS_B) - 1
    rows_b.append(wrap(make_row(s, B_LEFT, B_W, B_RIGHT, 653, last, X_LABELS_B, 19, 78), i))

cap_style = "font-family:'Liberation Serif',serif;font-size:21px;color:black;line-height:24px;margin:0;"
cap_a = Div(text=f'<div style="{cap_style}padding-left:388px;">(<b>a</b>)</div>',
            width=A_W, height=28, margin=(0, 0, 0, 0))
cap_b = Div(text=f'<div style="{cap_style}padding-left:294px;">(<b>b</b>)</div>',
            width=B_W, height=28, margin=(0, 0, 0, 0))

col_a = column(Spacer(width=A_W, height=11), *rows_a, cap_a, spacing=0)
col_b = column(Spacer(width=B_W, height=11), *rows_b, Spacer(width=B_W, height=184), cap_b, spacing=0)
layout = row(col_a, col_b, spacing=0)

open("out.html", "w").write(file_html(layout, INLINE, title="EMD decomposition"))
